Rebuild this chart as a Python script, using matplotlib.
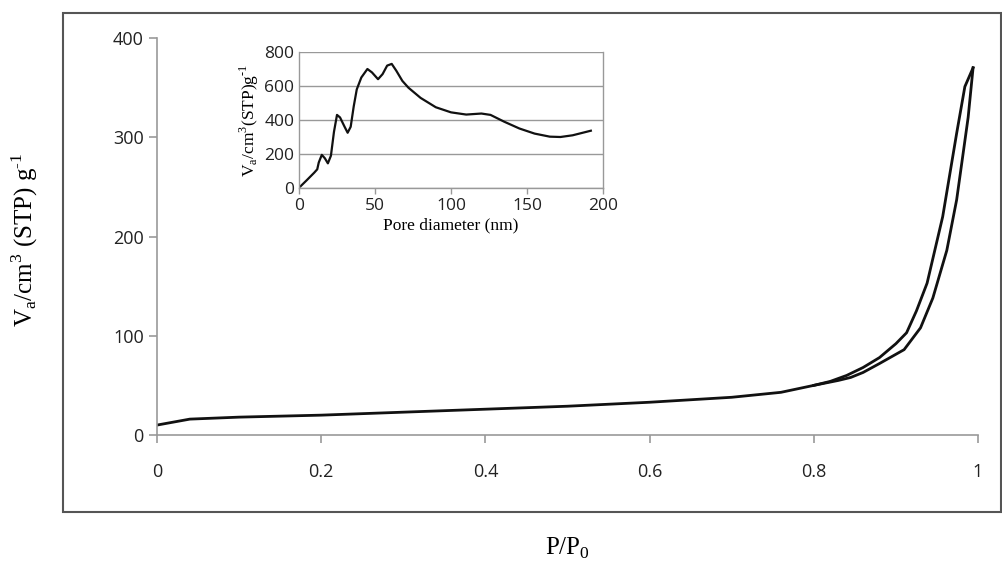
import matplotlib.pyplot as plt
from matplotlib.patches import Rectangle

# adsorption branch (lower)
ads_p = [0.0, 0.02, 0.04, 0.1, 0.2, 0.3, 0.4, 0.5, 0.6, 0.7, 0.76, 0.8, 0.83,
         0.845, 0.86, 0.88, 0.91, 0.93, 0.945, 0.962, 0.974, 0.988, 0.994]
ads_v = [10, 13, 16, 18, 20, 23, 26, 29, 33, 38, 43, 50, 55,
         58, 63, 72, 86, 108, 138, 186, 237, 320, 370]
# desorption branch (upper)
des_p = [0.994, 0.984, 0.974, 0.957, 0.938, 0.925, 0.913, 0.9, 0.88, 0.86,
         0.84, 0.82, 0.8]
des_v = [370, 351, 304, 220, 153, 125, 103, 92, 78, 68, 60, 54, 50]

# pore size distribution (inset)
pore_d = [1, 5, 10, 12, 13, 15, 17, 19, 21, 23, 25, 27, 30, 32, 34, 36, 38,
          41, 45, 48, 52, 55, 58, 61, 64, 68, 72, 80, 90, 100, 110, 120, 126,
          135, 145, 155, 165, 172, 180, 192]
pore_v = [10, 45, 90, 110, 150, 195, 175, 145, 190, 330, 430, 415, 360, 325,
          360, 480, 580, 650, 700, 680, 640, 670, 720, 730, 690, 630, 590, 530,
          475, 445, 432, 438, 430, 390, 350, 320, 302, 300, 310, 337]

serif = 'Liberation Serif'
sans = 'Open Sans'
grey = '#999999'

fig = plt.figure(figsize=(10.03, 5.66), dpi=100)
fig.patches.append(Rectangle((63 / 1003, (566 - 512) / 566), (1001 - 63) / 1003,
                             (512 - 13) / 566, transform=fig.transFigure,
                             fill=False, edgecolor='#555555', lw=1.5))

ax = fig.add_axes([157 / 1003, (566 - 435) / 566, 821 / 1003, 397 / 566])
ax.plot(ads_p, ads_v, color='#111111', lw=2.0, solid_joinstyle='round')
ax.plot(des_p, des_v, color='#111111', lw=2.0, solid_joinstyle='round')
ax.set_xlim(0, 1)
ax.set_ylim(0, 400)
ax.set_xticks([0, 0.2, 0.4, 0.6, 0.8, 1])
ax.set_xticklabels(['0', '0.2', '0.4', '0.6', '0.8', '1'])
ax.set_yticks([0, 100, 200, 300, 400])
for s in ['top', 'right']:
    ax.spines[s].set_visible(False)
for s in ['left', 'bottom']:
    ax.spines[s].set_color(grey)
    ax.spines[s].set_linewidth(1.2)
ax.tick_params(colors=grey, width=1.2, length=6, labelcolor='#222222',
               labelsize=13)
ax.tick_params(axis='x', pad=14)
for lab in ax.get_xticklabels() + ax.get_yticklabels():
    lab.set_family(sans)
plt.rcParams['mathtext.fontset'] = 'custom'
plt.rcParams['mathtext.rm'] = serif
fig.text(25 / 1003, 1 - 240 / 566,
         'V$_\\mathregular{a}$/cm$^\\mathregular{3}$ (STP) g$^\\mathregular{\u20101}$',
         rotation=90, ha='center', va='center', family=serif, fontsize=18)
fig.text(568 / 1003, 1 - 548 / 566, 'P/P$_\\mathregular{0}$', ha='center',
         va='center', family=serif, fontsize=18)

# inset
ins = fig.add_axes([299 / 1003, (566 - 188) / 566, 304 / 1003, 136 / 566])
ins.plot(pore_d, pore_v, color='#111111', lw=1.6, solid_joinstyle='round')
ins.set_xlim(0, 200)
ins.set_ylim(0, 800)
ins.set_xticks([0, 50, 100, 150, 200])
ins.set_yticks([0, 200, 400, 600, 800])
ins.yaxis.grid(True, color=grey, lw=1.0)
ins.set_axisbelow(True)
ins.spines['top'].set_visible(False)
for s in ['left', 'bottom', 'right']:
    ins.spines[s].set_color(grey)
    ins.spines[s].set_linewidth(1.0)
ins.tick_params(colors=grey, width=1.0, length=4, labelcolor='#222222',
                labelsize=12.5)
ins.tick_params(axis='y', length=0)
for lab in ins.get_xticklabels() + ins.get_yticklabels():
    lab.set_family(sans)
ins.set_xlabel('Pore diameter (nm)', family=serif, fontsize=12.5, labelpad=2)
ins.set_ylabel('V$_\\mathregular{a}$/cm$^\\mathregular{3}$(STP)g$^\\mathregular{\u20101}$',
               family=serif, fontsize=12.5, labelpad=2)

fig.savefig('out.png', dpi=100)
